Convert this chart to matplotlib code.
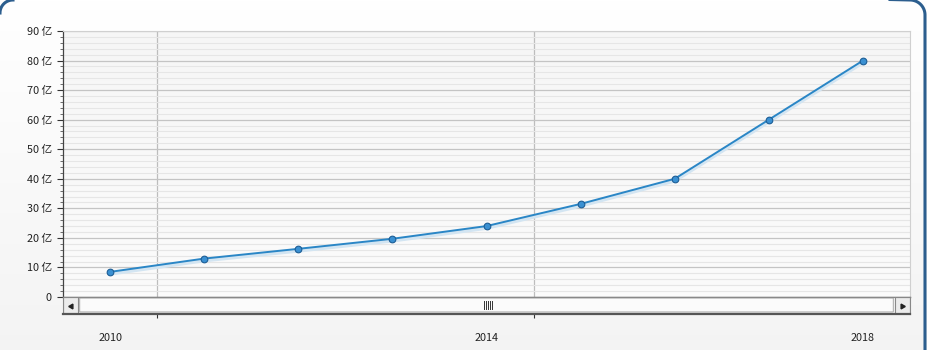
import matplotlib
matplotlib.use("Agg")
import matplotlib.pyplot as plt
import numpy as np
from matplotlib.patches import Rectangle, FancyBboxPatch
from matplotlib.lines import Line2D
import matplotlib.transforms as mtransforms

plt.rcParams['font.family'] = ['Noto Sans CJK SC', 'DejaVu Sans']

years = [2010, 2011, 2012, 2013, 2014, 2015, 2016, 2017, 2018]
values = [8.5, 13.0, 16.3, 19.7, 24.0, 31.5, 40.0, 60.0, 80.0]
xtick_years = [2010, 2014, 2018]
yticks = [0, 10, 20, 30, 40, 50, 60, 70, 80, 90]
ytick_labels = ['0'] + [f'{v} 亿' for v in yticks[1:]]

W, H = 928, 350
fig = plt.figure(figsize=(W / 100, H / 100), dpi=100)

# figure background gradient
bg = fig.add_axes([0, 0, 1, 1], zorder=-10)
grad = np.linspace(1.0, 0.955, 256).reshape(-1, 1)
bg.imshow(np.dstack([grad, grad, grad]), aspect='auto', extent=[0, 1, 0, 1])
bg.set_axis_off()

# panel border drawn in figure-fraction coords built from pixel geometry
def px(xp, yp):
    return np.asarray(xp) / W, 1 - np.asarray(yp) / H

t = np.linspace(0, np.pi / 2, 30)
# top-right corner + right edge
rx = np.concatenate([910 + 15 * np.cos(t[::-1] * 0 + (np.pi / 2 - t)), [925]])
ry = np.concatenate([15 - 15 * np.sin(np.pi / 2 - t), [352]])
rx = np.concatenate([[890], rx])
ry = np.concatenate([[0 - 0.5], ry])
fx, fy = px(rx, ry)
fig.add_artist(Line2D(fx, fy, color='#2c5e8e', linewidth=2.2,
                      transform=fig.transFigure, zorder=5))
# top-left corner arc
lx = 13 - 13 * np.cos(t)
ly = 13 - 13 * np.sin(t)
fx, fy = px(lx, ly)
fig.add_artist(Line2D(fx, fy, color='#2c5e8e', linewidth=2.2,
                      transform=fig.transFigure, zorder=5))

L, R = 63, 910
T, B = 31, 297
ax = fig.add_axes([L / W, 1 - B / H, (R - L) / W, (B - T) / H])

# plot background gradient
ax.imshow(np.dstack([np.linspace(0.965, 0.985, 64).reshape(-1, 1)] * 3),
          aspect='auto', extent=[2009.5, 2018.5, 0, 90], zorder=0)
ax.set_xlim(2009.5, 2018.5)
ax.set_ylim(0, 90)

ax.set_yticks(yticks)
ax.set_yticklabels(ytick_labels)
ax.set_yticks(np.arange(0, 91, 2), minor=True)
ax.grid(which='minor', axis='y', color='#e6e6e6', linewidth=0.8, zorder=1)
ax.grid(which='major', axis='y', color='#c4c4c4', linewidth=0.9, zorder=1)
for xv in [2010.5, 2014.5]:
    ax.axvline(xv, color='#bdbdbd', linewidth=0.9, zorder=1)
ax.set_xticks([])
ax.tick_params(axis='y', which='major', length=4, width=0.8, color='#333333',
               labelsize=7.8, pad=4, labelcolor='#222222')
ax.tick_params(axis='y', which='minor', length=2, width=0.6, color='#555555')
for s in ['top', 'right']:
    ax.spines[s].set_color('#d0d0d0')
    ax.spines[s].set_linewidth(0.8)
ax.spines['left'].set_color('#444444')
ax.spines['left'].set_linewidth(0.9)
ax.spines['bottom'].set_color('#777777')
ax.spines['bottom'].set_linewidth(1.0)

# shadow line
offset = mtransforms.offset_copy(ax.transData, fig=fig, x=0, y=-2, units='dots')
ax.plot(years, values, color='#d3e5f2', linewidth=2.6, transform=offset, zorder=2,
        solid_capstyle='round')
ax.plot(years, values, color='#2a86c6', linewidth=1.4, zorder=3,
        marker='o', markersize=4.8, markerfacecolor='#3a90d2',
        markeredgecolor='#1d5e96', markeredgewidth=0.8)

# scrollbar axes (also carries x tick labels)
SB_T, SB_B = 297, 314
sb = fig.add_axes([L / W, 1 - SB_B / H, (R - L) / W, (SB_B - SB_T) / H])
sb.set_xlim(2009.5, 2018.5)
sb.set_ylim(0, 1)
sb.set_facecolor('#f3f3f3')
sb.set_yticks([])
sb.set_xticks(xtick_years)
sb.set_xticklabels([str(y) for y in xtick_years])
sb.set_xticks([2010.5, 2014.5], minor=True)
sb.tick_params(axis='x', which='major', length=0, pad=14, labelsize=7.8,
               labelcolor='#222222')
sb.tick_params(axis='x', which='minor', length=3, width=0.8, color='#333333')
for s in ['top', 'left', 'right']:
    sb.spines[s].set_color('#888888')
    sb.spines[s].set_linewidth(0.8)
sb.spines['bottom'].set_color('#555555')
sb.spines['bottom'].set_linewidth(1.6)

bw = 15 / (R - L)
sb.add_patch(Rectangle((0, 0), bw, 1, transform=sb.transAxes,
                       facecolor='#ececec', edgecolor='#8a8a8a', linewidth=0.8))
sb.add_patch(Rectangle((1 - bw, 0), bw, 1, transform=sb.transAxes,
                       facecolor='#ececec', edgecolor='#8a8a8a', linewidth=0.8))
sb.add_patch(FancyBboxPatch((bw + 0.002, 0.12), 1 - 2 * bw - 0.004, 0.82,
                            boxstyle="round,pad=0,rounding_size=0.004",
                            transform=sb.transAxes, facecolor='#fbfbfb',
                            edgecolor='#a8a8a8', linewidth=0.7))
sb.plot([bw / 2], [0.5], marker=(3, 0, 90), markersize=4, color='#222222',
        transform=sb.transAxes)
sb.plot([1 - bw / 2], [0.5], marker=(3, 0, -90), markersize=4, color='#222222',
        transform=sb.transAxes)
cx = (488 - L) / (R - L)
for i in range(5):
    dx = (i - 2) * 2 / (R - L)
    sb.plot([cx + dx, cx + dx], [0.3, 0.75], color='#333333', linewidth=0.7,
            transform=sb.transAxes)

fig.savefig('out.png', dpi=100)
